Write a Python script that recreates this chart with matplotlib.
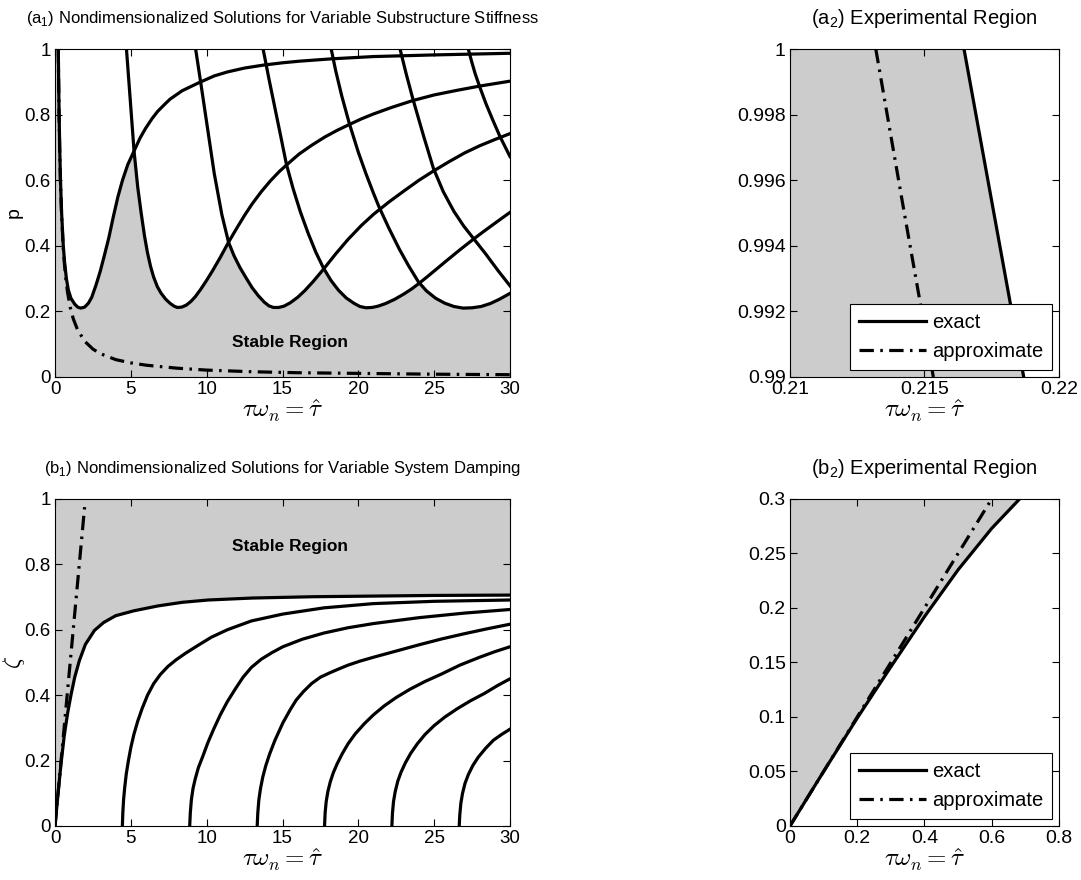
import matplotlib
matplotlib.use('Agg')
import matplotlib.pyplot as plt
import numpy as np

REG = ['Liberation Sans', 'DejaVu Sans']
NARROW = ['Liberation Sans Narrow', 'Liberation Sans', 'DejaVu Sans']
plt.rcParams['font.family'] = REG
GRAY = '#cccccc'
LW = 2.3
DASHDOT = (0, (4.5, 2, 0.8, 2))

# ---------------- (a1) p vs tau, exact curves
a1_A_tau = [0.2165, 0.2187, 0.241, 0.27, 0.31, 0.36, 0.435, 0.545, 0.63, 0.75, 0.88, 1.05, 1.3, 1.5, 1.69,
            1.95, 2.2, 2.42, 2.7, 2.98, 3.25, 3.55, 3.85, 4.15, 4.45, 4.8, 5.21, 5.6, 5.97, 6.4, 6.77,
            7.2, 7.58, 8.39, 9.52, 10.5, 11.36, 12.5, 13.75, 15, 16.14, 18.21, 21, 25, 30]
a1_A_p = [1.0, 0.99, 0.9, 0.8, 0.7, 0.6, 0.5, 0.4, 0.35, 0.3, 0.265, 0.24, 0.222, 0.213, 0.21,
          0.213, 0.225, 0.243, 0.28, 0.322, 0.37, 0.425, 0.49, 0.55, 0.6, 0.648, 0.689, 0.728, 0.758, 0.788, 0.81,
          0.83, 0.847, 0.873, 0.898, 0.918, 0.93, 0.942, 0.951, 0.958, 0.963, 0.97, 0.977, 0.982, 0.987]
a1_B_tau = [4.71, 4.96, 5.21, 5.45, 5.68, 5.9, 6.1, 6.3, 6.5, 6.75, 7.0, 7.3, 7.6, 7.85, 8.06, 8.35, 8.65,
            8.95, 9.25, 9.6, 10.0, 10.4, 10.9, 11.44, 12.0, 12.5, 13.0, 13.6, 14.2, 14.8, 15.4, 16.1, 16.94,
            17.8, 18.6, 19.41, 20.2, 21.0, 22.2, 23.6, 25, 26.5, 28, 30]
a1_B_p = [1.0, 0.845, 0.689, 0.58, 0.5, 0.43, 0.378, 0.337, 0.305, 0.275, 0.255, 0.237, 0.224, 0.216, 0.212,
          0.213, 0.219, 0.23, 0.245, 0.267, 0.295, 0.325, 0.365, 0.411, 0.455, 0.493, 0.528, 0.565, 0.598,
          0.627, 0.652, 0.68, 0.707, 0.732, 0.752, 0.77, 0.787, 0.802, 0.822, 0.843, 0.86, 0.874, 0.887, 0.902]
a1_C_tau = [9.27, 9.6, 10.05, 10.5, 11.0, 11.44, 11.8, 12.2, 12.6, 13.0, 13.4, 13.8, 14.1, 14.4, 14.75,
            15.1, 15.5, 16.0, 16.46, 17.0, 17.69, 18.5, 19.33, 20.2, 21.0, 22.0, 23.0, 24.0, 24.95, 26.0,
            27.0, 28.0, 29.0, 30]
a1_C_p = [1.0, 0.9, 0.76, 0.62, 0.495, 0.411, 0.37, 0.333, 0.302, 0.272, 0.248, 0.228, 0.217, 0.212, 0.212,
          0.216, 0.226, 0.243, 0.263, 0.29, 0.328, 0.375, 0.42, 0.462, 0.496, 0.533, 0.567, 0.6, 0.628, 0.657,
          0.683, 0.705, 0.724, 0.742]
a1_D_tau = [13.72, 14.1, 14.5, 14.9, 15.26, 15.7, 16.18, 16.7, 17.2, 17.69, 18.2, 18.7, 19.2, 19.7, 20.1,
            20.5, 20.9, 21.3, 21.8, 22.4, 23.0, 23.5, 23.96, 24.5, 25.1, 25.8, 26.7, 27.58, 28.3, 29.1, 30]
a1_D_p = [1.0, 0.91, 0.82, 0.73, 0.648, 0.574, 0.503, 0.437, 0.38, 0.333, 0.294, 0.264, 0.241, 0.225, 0.215,
          0.211, 0.212, 0.216, 0.224, 0.237, 0.253, 0.268, 0.284, 0.304, 0.327, 0.354, 0.388, 0.42, 0.445,
          0.472, 0.502]
a1_E_tau = [18.21, 18.5, 18.9, 19.41, 20.0, 20.5, 21.0, 21.35, 22.0, 22.7, 23.3, 23.96, 24.5, 25.1, 25.7,
            26.3, 26.9, 27.5, 28.1, 28.7, 29.3, 30]
a1_E_p = [1.0, 0.935, 0.858, 0.772, 0.685, 0.62, 0.56, 0.52, 0.455, 0.39, 0.34, 0.29, 0.262, 0.24, 0.225,
          0.215, 0.21, 0.211, 0.215, 0.224, 0.237, 0.255]
a1_F_tau = [22.75, 23.15, 23.6, 24.3, 24.95, 25.6, 26.3, 26.95, 27.58, 28.4, 29.2, 30]
a1_F_p = [1.0, 0.925, 0.847, 0.735, 0.636, 0.565, 0.505, 0.46, 0.423, 0.375, 0.325, 0.278]
a1_G_tau = [27.25, 27.45, 27.7, 28.0, 28.4, 28.85, 29.34, 30]
a1_G_p = [1.0, 0.965, 0.925, 0.885, 0.835, 0.785, 0.733, 0.672]
# approximate solution (dash-dot)
a1_apx_tau = [0.2132, 0.2153, 0.237, 0.267, 0.305, 0.355, 0.427, 0.533, 0.61, 0.71, 0.82, 1.0, 1.2, 1.5,
              2.0, 2.5, 3, 4, 5, 6, 8, 10, 13, 16, 20, 25, 30]
a1_apx_p = [1.0, 0.99, 0.9, 0.8, 0.7, 0.6, 0.5, 0.4, 0.35, 0.3, 0.26, 0.213, 0.178, 0.142,
            0.107, 0.085, 0.071, 0.053, 0.043, 0.036, 0.027, 0.021, 0.016, 0.013, 0.011, 0.0085, 0.007]

# ---------------- (a2) zoom near p = 1
a2_exact_tau = [0.21647, 0.21758, 0.21869]
a2_exact_p = [1.0, 0.995, 0.99]
a2_apx_tau = [0.21319, 0.21425, 0.21533]
a2_apx_p = [1.0, 0.995, 0.99]

# ---------------- (b1) zeta vs tau
b1_c0_tau = [0, 0.2, 0.4, 0.6, 0.683, 0.85, 1.05, 1.3, 1.6, 2.0, 2.6, 3.2, 4.0, 5.2, 6.8, 8.4, 10.1,
             13, 17, 21, 25, 30]
b1_c0_z = [0, 0.099, 0.192, 0.273, 0.3, 0.35, 0.4, 0.455, 0.505, 0.555, 0.598, 0.622, 0.643, 0.658,
           0.673, 0.684, 0.691, 0.697, 0.701, 0.703, 0.705, 0.706]
b1_c1_tau = [4.44, 4.47, 4.52, 4.6, 4.7, 4.84, 5.0, 5.2, 5.45, 5.75, 6.1, 6.5, 6.94, 7.45, 7.98, 8.6, 9.35,
             10.3, 11.36, 12.95, 15.02, 17.73, 21, 25, 30]
b1_c1_z = [0, 0.04, 0.08, 0.12, 0.16, 0.2, 0.24, 0.28, 0.32, 0.36, 0.4, 0.435, 0.463, 0.488, 0.508, 0.528,
           0.55, 0.577, 0.6, 0.627, 0.648, 0.667, 0.68, 0.687, 0.691]
b1_c2_tau = [8.88, 8.92, 8.99, 9.1, 9.25, 9.45, 9.76, 10.08, 10.45, 10.9, 11.36, 11.9, 12.4, 12.95, 13.6,
             14.3, 15.02, 16.3, 17.73, 19.3, 21, 24, 27, 30]
b1_c2_z = [0, 0.04, 0.08, 0.115, 0.145, 0.178, 0.215, 0.255, 0.295, 0.34, 0.38, 0.42, 0.455, 0.485, 0.51,
           0.53, 0.548, 0.571, 0.59, 0.606, 0.619, 0.637, 0.651, 0.662]
b1_c3_tau = [13.33, 13.37, 13.44, 13.55, 13.7, 13.9, 14.15, 14.5, 15.02, 15.5, 15.9, 16.4, 16.93, 17.5,
             18.1, 18.7, 19.33, 20.1, 21, 22.5, 24, 25.5, 27, 28.5, 30]
b1_c3_z = [0, 0.04, 0.08, 0.115, 0.15, 0.185, 0.22, 0.262, 0.315, 0.355, 0.385, 0.412, 0.436, 0.455,
           0.468, 0.48, 0.492, 0.504, 0.516, 0.535, 0.554, 0.572, 0.588, 0.603, 0.617]
b1_c4_tau = [17.77, 17.81, 17.88, 17.99, 18.15, 18.35, 18.6, 18.95, 19.33, 19.8, 20.4, 21, 21.7, 22.5,
             23.4, 24.4, 25.5, 26.7, 28, 29, 30]
b1_c4_z = [0, 0.04, 0.075, 0.105, 0.135, 0.163, 0.19, 0.222, 0.252, 0.282, 0.313, 0.34, 0.367, 0.393,
           0.418, 0.442, 0.465, 0.492, 0.516, 0.533, 0.548]
b1_c5_tau = [22.21, 22.25, 22.32, 22.43, 22.6, 22.82, 23.1, 23.45, 23.9, 24.4, 25.0, 25.7, 26.5, 27.4,
             28.3, 29.2, 30]
b1_c5_z = [0, 0.04, 0.075, 0.105, 0.137, 0.165, 0.193, 0.222, 0.252, 0.28, 0.307, 0.333, 0.358, 0.383,
           0.405, 0.43, 0.45]
b1_c6_tau = [26.65, 26.69, 26.76, 26.87, 27.03, 27.25, 27.55, 27.9, 28.4, 28.9, 29.45, 30]
b1_c6_z = [0, 0.035, 0.07, 0.1, 0.13, 0.157, 0.185, 0.21, 0.238, 0.262, 0.28, 0.296]
b1_apx_tau = [0, 0.5, 1.0, 1.5, 1.95]
b1_apx_z = [0, 0.25, 0.5, 0.75, 0.975]

# ---------------- (b2) zoom near origin
b2_exact_tau = [0, 0.1, 0.2, 0.3, 0.4, 0.5, 0.6, 0.683]
b2_exact_z = [0, 0.05, 0.099, 0.146, 0.192, 0.235, 0.273, 0.3]
b2_apx_tau = [0, 0.3, 0.6]
b2_apx_z = [0, 0.15, 0.3]

fig = plt.figure(figsize=(10.81, 8.80), dpi=100)
ax1 = fig.add_axes([0.0509, 0.5716, 0.4209, 0.3727])
ax2 = fig.add_axes([0.7308, 0.5716, 0.2488, 0.3727])
ax3 = fig.add_axes([0.0509, 0.0614, 0.4209, 0.3716])
ax4 = fig.add_axes([0.7308, 0.0614, 0.2488, 0.3716])


def style(ax, xt, xl, yt, yl, fam, xlim, ylim, size):
    ax.set_xlim(xlim)
    ax.set_ylim(ylim)
    ax.set_xticks(xt)
    ax.set_xticklabels(xl, family=fam, fontsize=size)
    ax.set_yticks(yt)
    ax.set_yticklabels(yl, family=fam, fontsize=size)
    ax.tick_params(direction='in', top=True, right=True, length=5, width=0.8, pad=3)
    for s in ax.spines.values():
        s.set_linewidth(0.8)
    ax.set_xlabel(r'$\tau\omega_n = \hat{\tau}$', math_fontfamily='cm', fontsize=18, labelpad=0)


# (a1)
a1_curves = [(a1_A_tau, a1_A_p), (a1_B_tau, a1_B_p), (a1_C_tau, a1_C_p), (a1_D_tau, a1_D_p),
             (a1_E_tau, a1_E_p), (a1_F_tau, a1_F_p), (a1_G_tau, a1_G_p)]
grid = np.linspace(0, 30, 6001)
env = np.ones_like(grid)
for t, p in a1_curves:
    env = np.minimum(env, np.interp(grid, t, p, left=1.0, right=p[-1]))
ax1.fill_between(grid, 0, env, color=GRAY, lw=0)
for t, p in a1_curves:
    ax1.plot(t, p, color='k', lw=LW, solid_joinstyle='round')
ax1.plot(a1_apx_tau, a1_apx_p, color='k', lw=LW, linestyle=DASHDOT)
ax1.text(15.5, 0.105, 'Stable Region', family=NARROW, fontsize=12.5, fontweight='bold',
         ha='center', va='center')
style(ax1, range(0, 31, 5), [str(v) for v in range(0, 31, 5)],
      [0, 0.2, 0.4, 0.6, 0.8, 1], ['0', '0.2', '0.4', '0.6', '0.8', '1'], NARROW, (0, 30), (0, 1), 13.5)
ax1.set_ylabel('p', family=NARROW, fontsize=14)
ax1.yaxis.set_label_coords(-0.072, 0.5)
ax1.set_title(r'(a$_\mathregular{1}$) Nondimensionalized Solutions for Variable Substructure Stiffness',
              family=NARROW, fontsize=12, pad=19)

# (a2)
ax2.fill_betweenx(a2_exact_p, 0.21, a2_exact_tau, color=GRAY, lw=0)
ax2.plot(a2_exact_tau, a2_exact_p, color='k', lw=LW, label='exact')
ax2.plot(a2_apx_tau, a2_apx_p, color='k', lw=LW, linestyle=DASHDOT, label='approximate')
style(ax2, [0.21, 0.215, 0.22], ['0.21', '0.215', '0.22'],
      [0.99, 0.992, 0.994, 0.996, 0.998, 1.0], ['0.99', '0.992', '0.994', '0.996', '0.998', '1'],
      REG, (0.21, 0.22), (0.99, 1.0), 14)
ax2.set_title(r'(a$_\mathregular{2}$) Experimental Region', fontsize=14.5, pad=18)

# (b1)
ax3.fill_between(b1_c0_tau, b1_c0_z, 1, color=GRAY, lw=0)
for t, z in [(b1_c0_tau, b1_c0_z), (b1_c1_tau, b1_c1_z), (b1_c2_tau, b1_c2_z), (b1_c3_tau, b1_c3_z),
             (b1_c4_tau, b1_c4_z), (b1_c5_tau, b1_c5_z), (b1_c6_tau, b1_c6_z)]:
    ax3.plot(t, z, color='k', lw=LW, solid_joinstyle='round')
ax3.plot(b1_apx_tau, b1_apx_z, color='k', lw=LW, linestyle=DASHDOT)
ax3.text(15.5, 0.854, 'Stable Region', family=NARROW, fontsize=12.5, fontweight='bold',
         ha='center', va='center')
style(ax3, range(0, 31, 5), [str(v) for v in range(0, 31, 5)],
      [0, 0.2, 0.4, 0.6, 0.8, 1], ['0', '0.2', '0.4', '0.6', '0.8', '1'], NARROW, (0, 30), (0, 1), 13.5)
ax3.set_ylabel(r'$\zeta$', math_fontfamily='cm', fontsize=17)
ax3.yaxis.set_label_coords(-0.062, 0.5)
ax3.set_title(r'(b$_\mathregular{1}$) Nondimensionalized Solutions for Variable System Damping',
              family=NARROW, fontsize=12, pad=19)

# (b2)
ax4.fill_between(b2_exact_tau, b2_exact_z, 0.3, color=GRAY, lw=0)
ax4.plot(b2_exact_tau, b2_exact_z, color='k', lw=LW, label='exact')
ax4.plot(b2_apx_tau, b2_apx_z, color='k', lw=LW, linestyle=DASHDOT, label='approximate')
style(ax4, [0, 0.2, 0.4, 0.6, 0.8], ['0', '0.2', '0.4', '0.6', '0.8'],
      [0, 0.05, 0.1, 0.15, 0.2, 0.25, 0.3], ['0', '0.05', '0.1', '0.15', '0.2', '0.25', '0.3'],
      REG, (0, 0.8), (0, 0.3), 14)
ax4.set_title(r'(b$_\mathregular{2}$) Experimental Region', fontsize=14.5, pad=18)

for ax in (ax2, ax4):
    leg = ax.legend(loc='lower right', bbox_to_anchor=(0.975, 0.02), fancybox=False, edgecolor='black',
                    framealpha=1, handlelength=3.3, prop={'family': REG, 'size': 14.5},
                    borderpad=0.45, labelspacing=0.5, handletextpad=0.3, borderaxespad=0)
    leg.get_frame().set_linewidth(0.8)

fig.savefig('out.png', dpi=100)
